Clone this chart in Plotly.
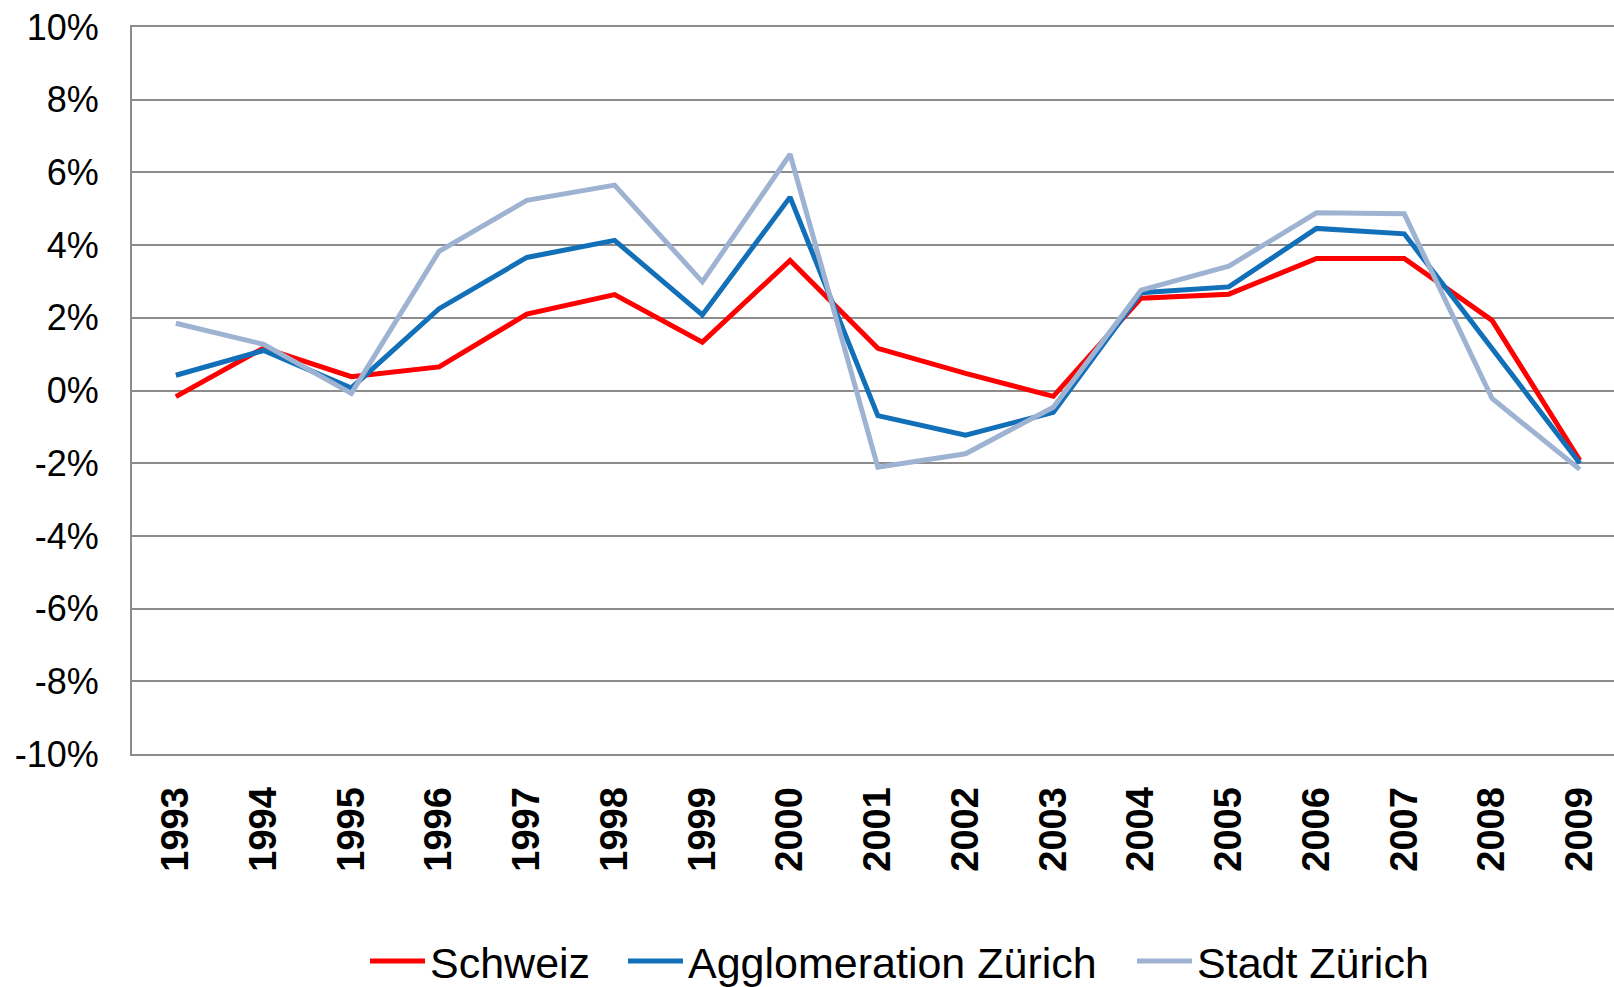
import plotly.graph_objects as go

years = [str(y) for y in range(1993, 2010)]
schweiz = [-0.17, 1.17, 0.38, 0.65, 2.10, 2.64, 1.33, 3.58, 1.16, 0.47, -0.16,
           2.54, 2.65, 3.63, 3.63, 1.93, -1.92]
agglo = [0.42, 1.10, 0.07, 2.25, 3.66, 4.13, 2.08, 5.32, -0.69, -1.23, -0.60,
         2.69, 2.85, 4.46, 4.31, 1.15, -2.00]
stadt = [1.85, 1.27, -0.08, 3.83, 5.23, 5.65, 2.99, 6.50, -2.11, -1.74, -0.46,
         2.76, 3.42, 4.89, 4.86, -0.22, -2.17]

y_tick_vals = [-10, -8, -6, -4, -2, 0, 2, 4, 6, 8, 10]
y_tick_text = [f"{v}%" for v in y_tick_vals]

series = [
    ("Schweiz", schweiz, "#FF0000", "legend"),
    ("Agglomeration Zürich", agglo, "#1270B9", "legend2"),
    ("Stadt Zürich", stadt, "#9EB2D2", "legend3"),
]

font_family = "Liberation Sans, Arial, sans-serif"

fig = go.Figure()
for name, vals, col, lg in series:
    fig.add_trace(go.Scatter(
        x=years, y=[v / 100 for v in vals], name=name, mode="lines",
        line=dict(color=col, width=5), legend=lg,
    ))

leg_common = dict(
    orientation="h", xref="container", yref="container",
    y=0.0263, xanchor="left", yanchor="middle",
    font=dict(size=43, family=font_family, color="black"),
    itemwidth=55, bgcolor="rgba(0,0,0,0)",
)
leg_x_px = [372, 630, 1139]
legs = {}
for key, px in zip(["legend", "legend2", "legend3"], leg_x_px):
    legs[key] = dict(leg_common, x=(px - 7) / 1614)

fig.update_layout(
    width=1614, height=987,
    margin=dict(l=132, r=0, t=27, b=233, autoexpand=False),
    paper_bgcolor="white", plot_bgcolor="white",
    font=dict(family=font_family, color="black"),
    showlegend=True,
    **legs,
    xaxis=dict(
        type="category", range=[-0.5, 16.39],
        showgrid=False, ticks="",
        showline=True, mirror=True, linecolor="#8C8C8C", linewidth=2,
        tickangle=-90,
        tickfont=dict(size=38, family=font_family, color="black", weight="bold"),
        ticklabelstandoff=16,
    ),
    yaxis=dict(
        range=[-0.10, 0.10],
        tickvals=[v / 100 for v in y_tick_vals], ticktext=y_tick_text,
        showgrid=True, gridcolor="#8C8C8C", gridwidth=2,
        zeroline=False,
        showline=True, linecolor="#8C8C8C", linewidth=2,
        ticks="", tickfont=dict(size=36, family=font_family, color="black"),
        ticklabelstandoff=24,
    ),
)

fig.write_html(
    "out.html",
    config={"displayModeBar": False},
    post_script="document.body.style.margin='0';document.body.style.overflow='hidden';",
)
